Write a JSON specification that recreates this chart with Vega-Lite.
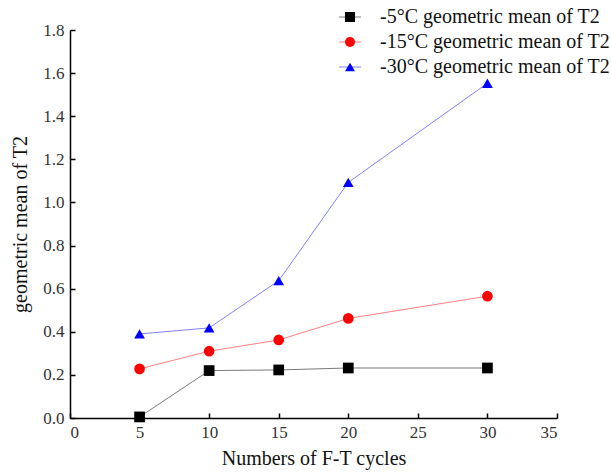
{
  "$schema": "https://vega.github.io/schema/vega-lite/v6.json",
  "width": 487,
  "height": 388,
  "autosize": {"type": "none"},
  "padding": {"left": 70, "top": 30, "right": 54, "bottom": 57},
  "background": "white",
  "config": {
    "view": {"stroke": null},
    "font": "Liberation Serif",
    "axis": {
      "grid": false,
      "domainColor": "black",
      "domainWidth": 1.5,
      "tickColor": "black",
      "tickWidth": 1.5,
      "tickSize": -5,
      "labelFont": "Liberation Serif",
      "labelFontSize": 17,
      "labelColor": "#333",
      "titleFont": "Liberation Serif",
      "titleFontSize": 20,
      "titleFontWeight": "normal",
      "titleColor": "#111"
    }
  },
  "data": {
    "values": [
      {"series": "-5°C geometric mean of T2", "x": 5, "y": 0.005},
      {"series": "-5°C geometric mean of T2", "x": 10, "y": 0.22},
      {"series": "-5°C geometric mean of T2", "x": 15, "y": 0.223},
      {"series": "-5°C geometric mean of T2", "x": 20, "y": 0.232},
      {"series": "-5°C geometric mean of T2", "x": 30, "y": 0.232},
      {"series": "-15°C geometric mean of T2", "x": 5, "y": 0.228},
      {"series": "-15°C geometric mean of T2", "x": 10, "y": 0.31},
      {"series": "-15°C geometric mean of T2", "x": 15, "y": 0.362},
      {"series": "-15°C geometric mean of T2", "x": 20, "y": 0.462},
      {"series": "-15°C geometric mean of T2", "x": 30, "y": 0.565},
      {"series": "-30°C geometric mean of T2", "x": 5, "y": 0.39},
      {"series": "-30°C geometric mean of T2", "x": 10, "y": 0.418},
      {"series": "-30°C geometric mean of T2", "x": 15, "y": 0.637},
      {"series": "-30°C geometric mean of T2", "x": 20, "y": 1.093},
      {"series": "-30°C geometric mean of T2", "x": 30, "y": 1.553}
    ]
  },
  "encoding": {
    "x": {
      "field": "x", "type": "quantitative",
      "scale": {"domain": [0, 35], "nice": false},
      "axis": {"values": [0, 5, 10, 15, 20, 25, 30, 35], "title": "Numbers of F-T cycles", "labelPadding": 11, "titlePadding": 8}
    },
    "y": {
      "field": "y", "type": "quantitative",
      "scale": {"domain": [0, 1.8], "nice": false},
      "axis": {"values": [0, 0.2, 0.4, 0.6, 0.8, 1.0, 1.2, 1.4, 1.6, 1.8], "format": ".1f", "title": "geometric mean of T2", "labelPadding": 11, "titlePadding": 12}
    }
  },
  "layer": [
    {
      "mark": {"type": "line", "strokeWidth": 1},
      "encoding": {
        "color": {
          "field": "series", "type": "nominal",
          "scale": {"domain": ["-5°C geometric mean of T2", "-15°C geometric mean of T2", "-30°C geometric mean of T2"], "range": ["#7a7a7a", "#ff7f7f", "#8080ff"]},
          "legend": {
            "orient": "none", "legendX": 270, "legendY": -23, "title": null,
            "symbolType": "M-2.2,0H2.2", "symbolSize": 100, "symbolStrokeWidth": 1,
            "labelOffset": 20, "labelFontSize": 20, "labelFont": "Liberation Serif", "labelColor": "#111", "labelLimit": 400,
            "rowPadding": 5, "padding": 0
          }
        }
      }
    },
    {
      "mark": {"type": "point", "filled": true, "opacity": 1, "size": 115},
      "encoding": {
        "color": {
          "field": "series", "type": "nominal",
          "scale": {"domain": ["-5°C geometric mean of T2", "-15°C geometric mean of T2", "-30°C geometric mean of T2"], "range": ["#000000", "#ff0000", "#0000ff"]},
          "legend": {
            "orient": "none", "legendX": 270, "legendY": -23, "title": null,
            "symbolSize": 100, "symbolOpacity": 1,
            "labelOffset": 20, "labelFontSize": 20, "labelColor": "transparent", "labelLimit": 400,
            "rowPadding": 5, "padding": 0
          }
        },
        "shape": {
          "field": "series", "type": "nominal",
          "scale": {"domain": ["-5°C geometric mean of T2", "-15°C geometric mean of T2", "-30°C geometric mean of T2"], "range": ["square", "circle", "triangle-up"]},
          "legend": {
            "orient": "none", "legendX": 270, "legendY": -23, "title": null,
            "symbolSize": 100, "symbolOpacity": 1,
            "labelOffset": 20, "labelFontSize": 20, "labelColor": "transparent", "labelLimit": 400,
            "rowPadding": 5, "padding": 0
          }
        }
      }
    }
  ],
  "resolve": {"scale": {"color": "independent", "shape": "independent"}, "legend": {"color": "independent", "shape": "independent"}}
}
